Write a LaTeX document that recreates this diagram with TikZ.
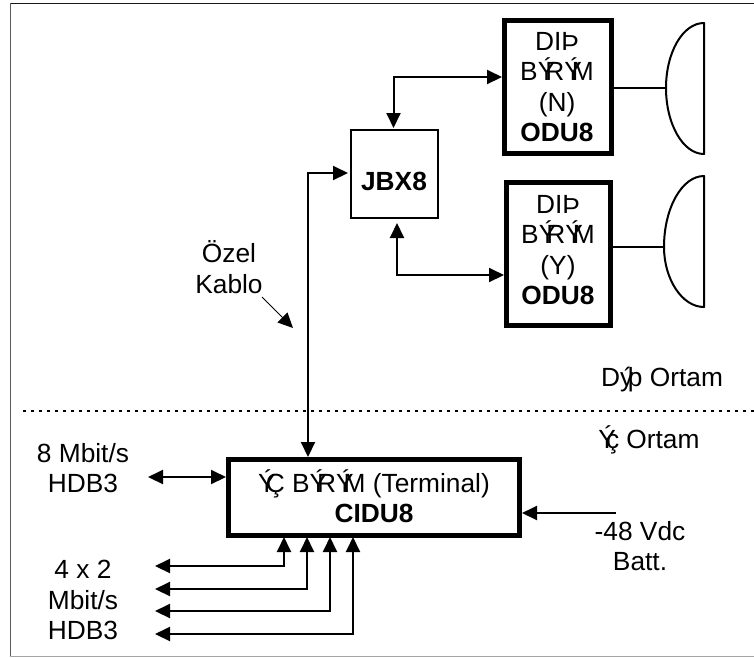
\documentclass[tikz,border=0pt]{standalone}
\usepackage{fontspec}
\setmainfont{Liberation Sans}
\usetikzlibrary{arrows.meta,calc}
\newcommand\Yov{Ý\kern-.38em}
\newcommand\yov{ý\kern-.2em}
\tikzset{
  x=1pt,y=-1pt,
  lbl/.style={align=center,inner sep=0pt,font=\fontsize{26.3}{30.5}\selectfont},
  thickbox/.style={draw,line width=5pt,minimum width=#1,inner sep=0pt},
  conn/.style={line width=2pt},
  tip/.style={-{Triangle[length=15pt,width=14pt]}},
  dtip/.style={{Triangle[length=15pt,width=14pt]}-{Triangle[length=15pt,width=14pt]}},
}
\begin{document}
\begin{tikzpicture}
\useasboundingbox (0,0) rectangle (754,657);
\fill[white] (0,0) rectangle (754,657);
% frame
\draw[line width=1.5pt,black!90] (10,3.5) -- (754,3.5);
\draw[line width=1.2pt,black!65] (10.5,3) -- (10.5,656);
\draw[line width=1pt,black!35] (10,656) -- (754,656);
% boxes
\node[thickbox=106.5pt,minimum height=133pt] (oduN) at (557.75,86.5) {};
\node[thickbox=104pt,minimum height=143pt] (oduY) at (558.5,254) {};
\node[draw,line width=2pt,minimum width=87pt,minimum height=88pt,inner sep=0pt] (jbx) at (394.5,174) {};
\node[thickbox=291pt,minimum height=76pt] (cidu) at (374,497.5) {};
% box texts
\node[lbl] (tN) at (557,87) {DIÞ\\B\Yov R\Yov M\\(N)\\\textbf{ODU8}};
\node[lbl] (tY) at (558,250) {DIÞ\\B\Yov R\Yov M\\(Y)\\\textbf{ODU8}};
\node[lbl,anchor=base] (tJ) at (394,190) {\textbf{JBX8}};
\node[lbl] (tC) at (374,496) {\Yov Ç B\Yov R\Yov M (Terminal)\\\textbf{CIDU8}};
% labels
\node[lbl] (l8) at (83,468) {8 Mbit/s\\HDB3};
\node[lbl] (l4) at (83,600) {4 x 2\\Mbit/s\\HDB3};
\node[lbl] (lb) at (640,546) {-48 Vdc\\Batt.};
\node[lbl,anchor=base] (ld) at (662,386) {D\yov þ Ortam};
\node[lbl,anchor=base] (li) at (649,448) {\Yov ç Ortam};
\node[lbl] (lo) at (229,267) {Özel\\Kablo};
% dishes
\coordinate (dN) at (666,88);
\coordinate (dY) at (664,247);
\draw[conn,line join=round] (704,23) .. controls (683,23) and (666,52) .. (dN) .. controls (666,124) and (683,154) .. (704,154) -- cycle;
\draw[conn,line join=round] (704,176) .. controls (682,176) and (664,208) .. (dY) .. controls (664,279) and (682,307) .. (704,307) -- cycle;
\draw[conn] (oduN.east |- dN) -- (dN);
\draw[conn] (oduY.east |- dY) -- (dY);
% connectors
\coordinate (jt) at ($(jbx.north)+(-1,-1)$);
\coordinate (jb) at (397,223);
\coordinate (jl) at (348,173);
\coordinate (ca) at (308,457);
\draw[conn,dtip] (jt) |- (oduN.west |- 0,77);
\draw[conn,dtip] (jb) |- (oduY.west |- 0,275);
\draw[conn,dtip] (jl) -| (ca);
\coordinate (oe) at (262,297);
\coordinate (ot) at (293,328);
\draw[line width=1pt,tip] (oe) -- (ot);
\draw[line width=2pt,dash pattern=on 3pt off 5pt] (23,411) -- (754,411);
% terminal side
\coordinate (e8) at (148,477);
\draw[conn,dtip] (e8) -- (e8 -| cidu.west);
\coordinate (eb) at (616,513);
\draw[conn,tip] (eb) -- (eb -| cidu.east);
\foreach \i/\x/\y in {1/284/566,2/307/589,3/330/611,4/353/634}{
  \coordinate (p\i) at (\x,537);
  \coordinate (q\i) at (155,\y);
  \draw[conn,dtip] (p\i) |- (q\i);
}
\end{tikzpicture}
\end{document}
